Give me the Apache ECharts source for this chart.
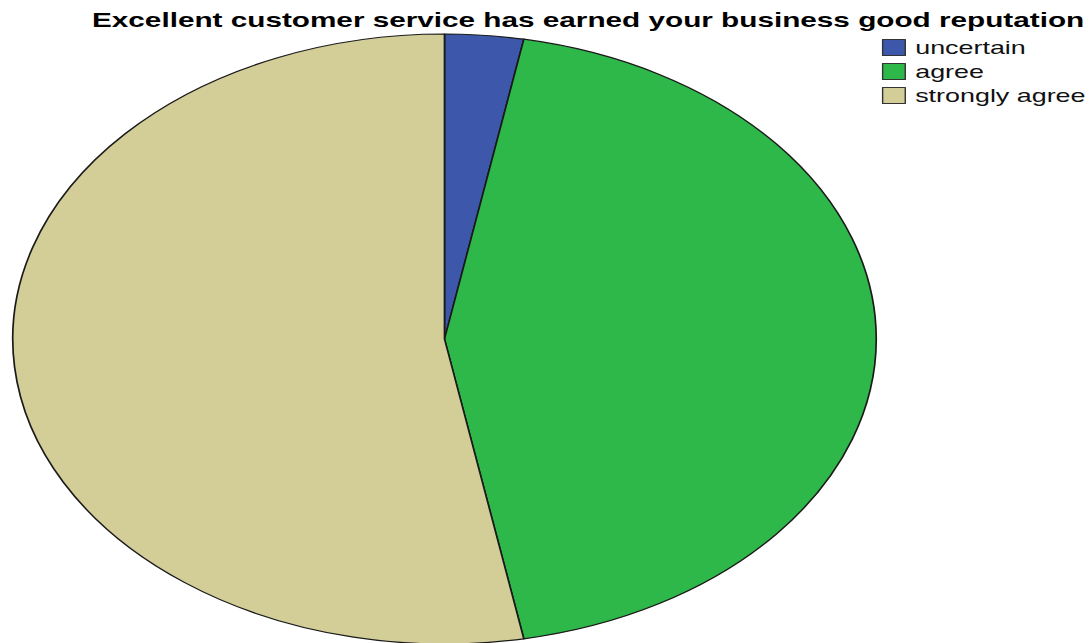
<!DOCTYPE html>
<html>
<head>
<meta charset="utf-8">
<script src="https://cdn.jsdelivr.net/npm/echarts@6/dist/echarts.min.js"></script>
<style>
  html, body { margin: 0; padding: 0; background: #ffffff; overflow: hidden; }
  #wrap { width: 1090px; height: 643px; position: relative; overflow: hidden; }
  /* the chart is laid out on a narrower canvas and widened, giving the oval pie */
  #chart { position: absolute; left: 0; top: 0; width: 770px; height: 643px;
           transform-origin: 0 0; transform: scaleX(1.4156); }
</style>
</head>
<body>
<div id="wrap"><div id="chart"></div></div>
<script>
const chartTitle = 'Excellent customer service has earned your business good reputation';
const categories = ['uncertain', 'agree', 'strongly agree'];
const counts = [1, 15, 18];
const colors = ['#3d58ab', '#2fb84a', '#d3cd98'];

const chart = echarts.init(document.getElementById('chart'), null, { renderer: 'svg' });

chart.setOption({
  animation: false,
  backgroundColor: '#ffffff',
  title: {
    text: chartTitle,
    left: 60,
    top: 4,
    textStyle: {
      fontFamily: '"Liberation Sans", Arial, sans-serif',
      fontWeight: 'bold',
      fontSize: 21,
      color: '#000000'
    }
  },
  legend: {
    orient: 'vertical',
    left: 618,
    top: 33,
    itemWidth: 16,
    itemHeight: 16,
    itemGap: 5,
    icon: 'rect',
    selectedMode: false,
    itemStyle: { borderColor: '#333333', borderWidth: 1 },
    textStyle: {
      fontFamily: '"Liberation Sans", Arial, sans-serif',
      fontSize: 19,
      color: '#111111',
      padding: [0, 0, 0, 2]
    },
    data: categories
  },
  series: [{
    type: 'pie',
    center: [314, 339],
    radius: [0, 305],
    startAngle: 90,
    clockwise: true,
    avoidLabelOverlap: false,
    label: { show: false },
    labelLine: { show: false },
    emphasis: { scale: false },
    itemStyle: { borderColor: '#1a1a1a', borderWidth: 1.2 },
    data: categories.map((name, i) => ({
      name: name,
      value: counts[i],
      itemStyle: { color: colors[i] }
    }))
  }]
});
</script>
</body>
</html>
